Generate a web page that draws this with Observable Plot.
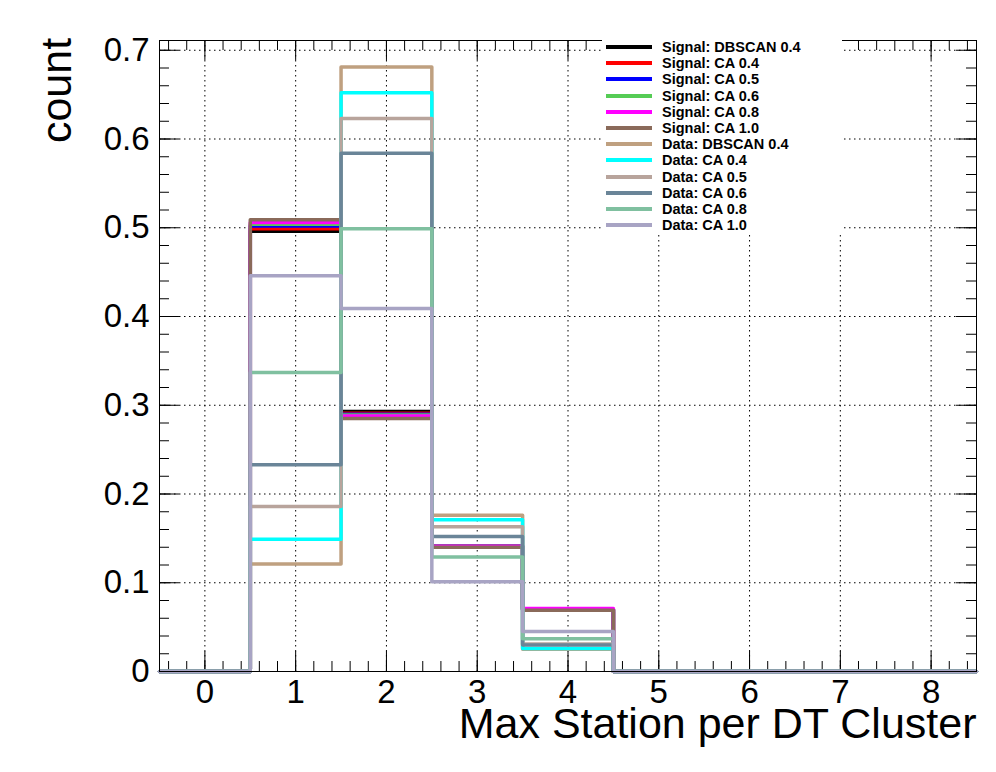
<!DOCTYPE html>
<html><head><meta charset="utf-8">
<script src="https://cdn.jsdelivr.net/npm/d3@7"></script>
<script src="https://cdn.jsdelivr.net/npm/@observablehq/plot@0.6"></script>
<style>
body{margin:0;background:#fff;font-family:"Liberation Sans",Arial,sans-serif}
#chart{position:relative;width:996px;height:772px}
#legend{position:absolute;left:602px;top:37px;width:240px;background:#fff;padding:2px 0}
.row{display:flex;align-items:center;height:16.2px;font-weight:bold;font-size:14.5px}
.sw{width:46px;height:4px;margin:0 10px 0 4px}
</style></head><body><div id="chart"><div id="legend"></div></div>
<script>
const names = ["Signal: DBSCAN 0.4","Signal: CA 0.4","Signal: CA 0.5","Signal: CA 0.6","Signal: CA 0.8","Signal: CA 1.0",
  "Data: DBSCAN 0.4","Data: CA 0.4","Data: CA 0.5","Data: CA 0.6","Data: CA 0.8","Data: CA 1.0"];
const colors = ["#000000","#ff0000","#0000ff","#55cc55","#ff00ff","#8a6a5a",
  "#bfa080","#00ffff","#b8a49c","#6a8598","#80c0a0","#a8a4c4"];
// bin contents for bins 0..8
const values = [
  [0,0.496,0.293,0.141,0.070,0,0,0,0],
  [0,0.499,0.291,0.141,0.070,0,0,0,0],
  [0,0.502,0.290,0.141,0.070,0,0,0,0],
  [0,0.504,0.289,0.141,0.070,0,0,0,0],
  [0,0.506,0.288,0.141,0.071,0,0,0,0],
  [0,0.509,0.285,0.140,0.069,0,0,0,0],
  [0,0.121,0.681,0.176,0.025,0,0,0,0],
  [0,0.149,0.652,0.171,0.026,0,0,0,0],
  [0,0.186,0.623,0.163,0.031,0,0,0,0],
  [0,0.233,0.584,0.152,0.030,0,0,0,0],
  [0,0.337,0.499,0.129,0.037,0,0,0,0],
  [0,0.446,0.409,0.101,0.045,0,0,0,0]
];
const xMajor = [0,1,2,3,4,5,6,7,8];
const yMajor = [0,0.1,0.2,0.3,0.4,0.5,0.6,0.7];

const steps = [];
values.forEach((vals, s) => {
  vals.forEach((v, i) => steps.push({s, x: i - 0.5, y: v}));
  steps.push({s, x: vals.length - 0.5, y: vals[vals.length - 1]});
});
const xMinor = d3.range(-0.4, 8.5, 0.2).map(d => +d.toFixed(2));
const yMinor = d3.range(0, 0.711, 0.02).map(d => +d.toFixed(3));
const ymax = 0.711, tx = 0.0225, ty = 0.22;

const chart = Plot.plot({
  width: 996, height: 772,
  marginLeft: 159, marginRight: 20, marginTop: 40, marginBottom: 101,
  style: {fontFamily: "Liberation Sans, Arial, sans-serif", fontSize: "33px", color: "#000"},
  x: {domain: [-0.5, 8.5]},
  y: {domain: [0, ymax]},
  marks: [
    Plot.gridX(xMajor, {stroke: "#000", strokeOpacity: 1, strokeDasharray: "1.5,3.5"}),
    Plot.gridY(yMajor, {stroke: "#000", strokeOpacity: 1, strokeDasharray: "1.5,3.5"}),
    Plot.ruleX(xMajor, {y1: 0, y2: tx, stroke: "#000"}),
    Plot.ruleX(xMajor, {y1: ymax, y2: ymax - tx, stroke: "#000"}),
    Plot.ruleX(xMinor, {y1: 0, y2: tx / 2, stroke: "#000"}),
    Plot.ruleX(xMinor, {y1: ymax, y2: ymax - tx / 2, stroke: "#000"}),
    Plot.ruleY(yMajor, {x1: -0.5, x2: -0.5 + ty, stroke: "#000"}),
    Plot.ruleY(yMajor, {x1: 8.5, x2: 8.5 - ty, stroke: "#000"}),
    Plot.ruleY(yMinor, {x1: -0.5, x2: -0.5 + ty / 2, stroke: "#000"}),
    Plot.ruleY(yMinor, {x1: 8.5, x2: 8.5 - ty / 2, stroke: "#000"}),
    Plot.line(steps, {x: "x", y: "y", z: "s", stroke: d => colors[d.s], curve: "step-after", strokeWidth: 3.5}),
    Plot.frame({stroke: "#000"}),
    Plot.axisX(xMajor, {tickSize: 0, tickPadding: 8, label: null}),
    Plot.axisY(yMajor, {tickSize: 0, tickPadding: 10, label: null, tickFormat: d => d === 0 ? "0" : d3.format(".1f")(d)}),
    Plot.text(["Max Station per DT Cluster"], {frameAnchor: "bottom-right", dy: 66, dx: 0, textAnchor: "end", fontSize: 43}),
    Plot.text(["count"], {frameAnchor: "top-left", dx: -119, dy: 50, rotate: -90, textAnchor: "middle", fontSize: 43})
  ]
});
document.getElementById("chart").prepend(chart);
const leg = d3.select("#legend");
names.forEach((n, i) => {
  const r = leg.append("div").attr("class", "row");
  r.append("div").attr("class", "sw").style("background", colors[i]);
  r.append("span").text(n);
});
</script></body></html>
